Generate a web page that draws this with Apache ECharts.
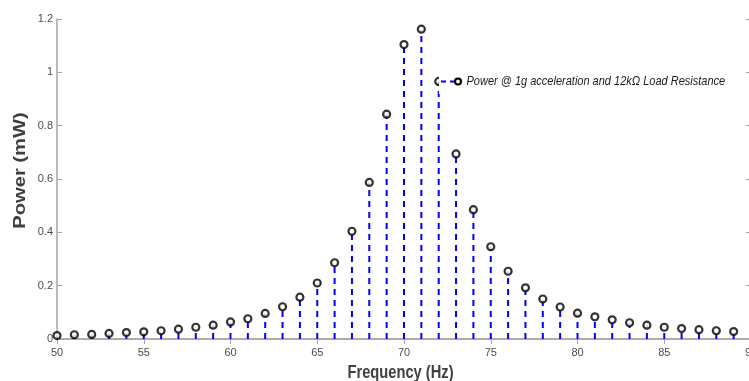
<!DOCTYPE html>
<html>
<head>
<meta charset="utf-8">
<script src="https://cdn.jsdelivr.net/npm/echarts@6/dist/echarts.min.js"></script>
<style>
html,body{margin:0;padding:0;background:#fff;}
#chart{width:749px;height:381px;}
</style>
</head>
<body>
<div id="chart"></div>
<script>
// Frequency (Hz)
var frequency = [50,51,52,53,54,55,56,57,58,59,60,61,62,63,64,65,66,67,68,69,70,71,72,73,74,75,76,77,78,79,80,81,82,83,84,85,86,87,88,89];
// Power (mW)
var power = [0.013,0.016,0.017,0.021,0.024,0.027,0.031,0.037,0.044,0.052,0.064,0.076,0.096,0.121,0.157,0.210,0.286,0.404,0.587,0.843,1.104,1.162,0.966,0.694,0.485,0.346,0.254,0.192,0.150,0.120,0.097,0.083,0.072,0.061,0.052,0.044,0.039,0.035,0.031,0.028];
var yTicks = [0, 0.2, 0.4, 0.6, 0.8, 1, 1.2];
var xTicks = [50, 55, 60, 65, 70, 75, 80, 85, 90];
var xTitle = 'Frequency (Hz)';
var yTitle = 'Power (mW)';
var legendText = 'Power @ 1g acceleration and 12k\u03A9 Load Resistance';

var pts = frequency.map(function (f, i) { return [f, power[i]]; });
var chart = echarts.init(document.getElementById('chart'));
var axisGrey = '#a6a6a6';
var labelGrey = '#4d4d4d';
var font = 'Liberation Sans, Arial, sans-serif';

chart.setOption({
  animation: false,
  backgroundColor: '#fff',
  grid: { left: 57, right: -2, top: 19, bottom: 42, show: false, containLabel: false, outerBoundsMode: 'none' },
  xAxis: [{
    type: 'value', min: xTicks[0], max: xTicks[xTicks.length - 1], interval: 5,
    axisLine: { show: true, lineStyle: { color: axisGrey, width: 1.5 } },
    axisTick: { show: true, inside: true, length: 5, lineStyle: { color: axisGrey } },
    axisLabel: { color: labelGrey, fontSize: 11, fontFamily: font, margin: 8 },
    splitLine: { show: false }
  }, {
    type: 'value', position: 'top', min: xTicks[0], max: xTicks[xTicks.length - 1], interval: 5,
    axisLine: { show: true, lineStyle: { color: axisGrey, width: 1.5 } },
    axisTick: { show: true, inside: true, length: 5, lineStyle: { color: axisGrey } },
    axisLabel: { show: false }, splitLine: { show: false }
  }],
  yAxis: [{
    type: 'value', min: yTicks[0], max: yTicks[yTicks.length - 1], interval: 0.2,
    axisLine: { show: true, lineStyle: { color: axisGrey, width: 1.5 } },
    axisTick: { show: true, inside: true, length: 5, lineStyle: { color: axisGrey } },
    axisLabel: { color: labelGrey, fontSize: 11, fontFamily: font, margin: 4 },
    splitLine: { show: false }
  }, {
    type: 'value', position: 'right', min: yTicks[0], max: yTicks[yTicks.length - 1], interval: 0.2,
    axisLine: { show: true, lineStyle: { color: axisGrey, width: 1.5 } },
    axisTick: { show: true, inside: true, length: 5, lineStyle: { color: axisGrey } },
    axisLabel: { show: false }, splitLine: { show: false }
  }],
  series: [{
    type: 'custom',
    name: 'stems',
    data: pts,
    z: 2,
    renderItem: function (params, api) {
      var x = api.value(0), y = api.value(1);
      var p0 = api.coord([x, 0]);
      var p1 = api.coord([x, y]);
      return {
        type: 'line',
        shape: { x1: p0[0], y1: p0[1], x2: p1[0], y2: p1[1] },
        style: { stroke: '#0000ff', lineWidth: 2, lineDash: [6, 5], fill: null }
      };
    }
  }, {
    type: 'scatter',
    name: legendText,
    data: pts,
    z: 3,
    symbol: 'circle',
    symbolSize: 7,
    itemStyle: { color: '#ffffff', borderColor: '#000000', borderWidth: 2.2 }
  }],
  graphic: [{
    type: 'rect', zlevel: 1, z: 10,
    shape: { x: 439, y: 68, width: 290, height: 26 },
    style: { fill: '#ffffff' }
  }, {
    type: 'line', zlevel: 1, z: 11,
    shape: { x1: 441, y1: 81.5, x2: 457, y2: 81.5 },
    style: { stroke: '#0000ff', lineWidth: 2, lineDash: [5, 4] }
  }, {
    type: 'circle', zlevel: 1, z: 12,
    shape: { cx: 458, cy: 81.5, r: 3 },
    style: { fill: '#ffffff', stroke: '#000000', lineWidth: 2.2 }
  }, {
    type: 'text', zlevel: 1, z: 12,
    x: 466.5, y: 81.5, scaleY: 1.2,
    style: { text: legendText, fontFamily: font, fontStyle: 'italic', fontSize: 11, fill: '#1a1a1a', align: 'left', verticalAlign: 'middle' }
  }, {
    type: 'text', z: 12,
    x: 400.5, y: 372.5, scaleY: 1.27,
    style: { text: xTitle, fontFamily: font, fontWeight: 'bold', fontSize: 14.7, fill: '#404040', align: 'center', verticalAlign: 'middle' }
  }, {
    type: 'text', z: 12,
    x: 21, y: 170.5, rotation: Math.PI / 2, scaleX: 1.26,
    style: { text: yTitle, fontFamily: font, fontWeight: 'bold', fontSize: 16, fill: '#404040', align: 'center', verticalAlign: 'middle' }
  }]
});
</script>
</body>
</html>
